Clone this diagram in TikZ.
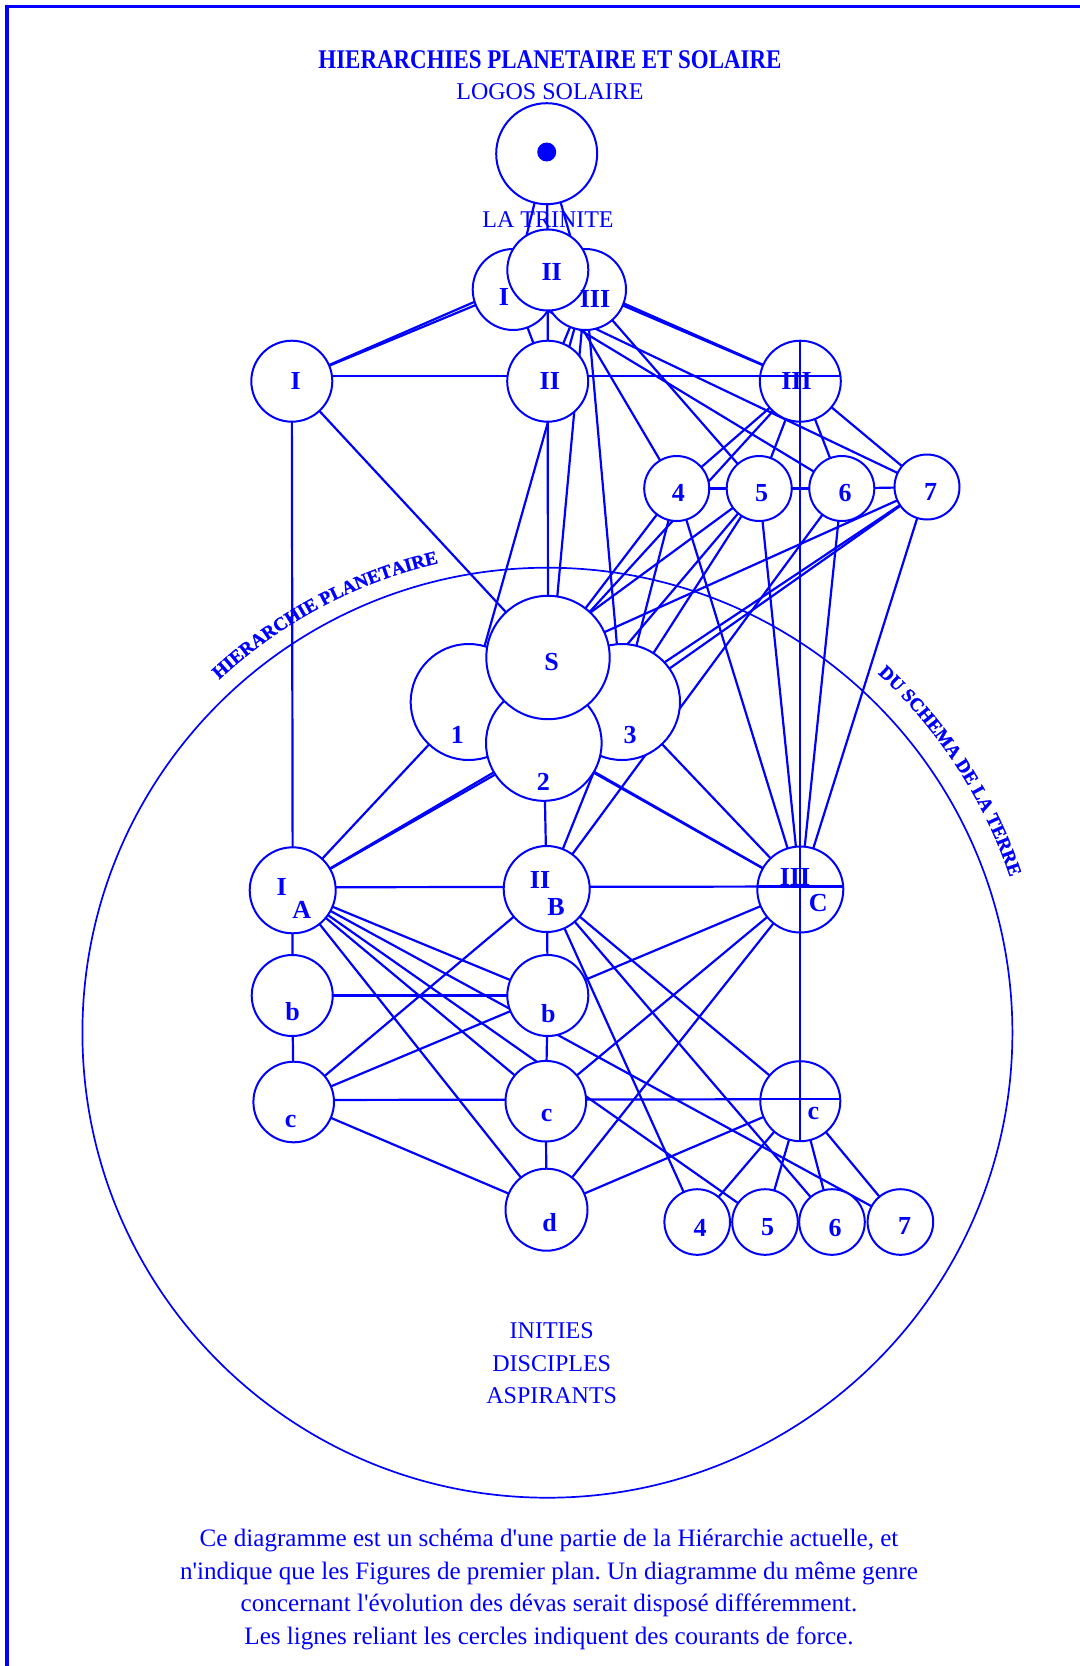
\documentclass[tikz,border=0pt]{standalone}
\usepackage{fontspec}
\setmainfont[Ligatures=TeXOff]{Liberation Serif}
\newfontfamily\heavyfont[Ligatures=TeXOff,BoldFeatures={FakeBold=1.3}]{Liberation Serif}
\usetikzlibrary{decorations.text}
\definecolor{blu}{RGB}{0,0,255}
\pgfdeclarelayer{bg}
\pgfsetlayers{bg,main}
\frenchspacing
\begin{document}
\begin{tikzpicture}[x=0.5pt,y=-0.5pt,
  circ/.style={circle,draw=blu,line width=1pt,fill=white,inner sep=0pt,outer sep=0pt},
  lab/.style={font=\fontsize{13}{13}\selectfont\bfseries,inner sep=0pt,text=blu},
  con/.style={draw=blu,line width=1.1pt},
  txt/.style={font=\fontsize{12}{14}\selectfont,text=blu,inner sep=0pt},
  foot/.style={font=\fontsize{12.55}{14}\selectfont,text=blu,inner sep=0pt,anchor=base},
  arctext/.style={decorate,decoration={text along path,text align=center,
    text={|\heavyfont\fontsize{9.4}{10}\selectfont\bfseries\color{blu}|#1}}}]
\useasboundingbox (0,0) rectangle (1080,1666);
\draw[blu,line width=1.6pt] (1080,6.7) -- (7,6.7) -- (7,1666);

% texts
\node[font=\fontsize{13.5}{14}\selectfont\bfseries,text=blu,inner sep=0pt] (title) at (550,59.2) {\scalebox{0.85}[1]{HIERARCHIES PLANETAIRE ET SOLAIRE}};
\node[txt] (logostxt) at (550,91.3) {LOGOS SOLAIRE};
\node[txt] (trin) at (548,219.2) {LA TRINITE};
\node[txt] (ini) at (551.7,1331) {INITIES};
\node[txt] (dis) at (551.7,1363.5) {DISCIPLES};
\node[txt] (asp) at (551.7,1395.7) {ASPIRANTS};
\node[foot] (f1) at (549,1546.5) {Ce diagramme est un schéma d'une partie de la Hiérarchie actuelle, et};
\node[foot] (f2) at (549,1579) {n'indique que les Figures de premier plan. Un diagramme du même genre};
\node[foot] (f3) at (549,1611.5) {concernant l'évolution des dévas serait disposé différemment.};
\node[foot] (f4) at (549,1644) {Les lignes reliant les cercles indiquent des courants de force.};

% big circle
\node[circle,draw=blu,line width=0.85pt,minimum size=465pt,inner sep=0pt] (big) at (547.4,1032.7) {};
\path[arctext=HIERARCHIE PLANETAIRE]
  (big.center) ++(-148:482) arc[start angle=-148,end angle=-88,radius=482];
\path[arctext=DU SCHEMA DE LA TERRE]
  (big.center) ++(-58:488) arc[start angle=-58,end angle=-8,radius=488];

% circles
\node[circ,minimum size=50.5pt] (L) at (546.7,153.7) {};
\node[circle,fill=blu,minimum size=9.5pt,inner sep=0pt] (dot) at (546.7,152) {};
\node[circ,minimum size=40.5pt] (tI) at (513.2,289.5) {};
\node[circ,minimum size=40.5pt] (tIII) at (585.5,289.5) {};
\node[circ,minimum size=40.5pt] (tII) at (547.8,270) {};
\node[circ,minimum size=40.5pt] (I) at (291.8,381.2) {};
\node[circ,minimum size=40.5pt] (II) at (547.7,381.2) {};
\node[circ,minimum size=40.5pt] (III) at (800.3,381.2) {};
\node[circ,minimum size=32.5pt] (p4) at (676.7,488.5) {};
\node[circ,minimum size=32.5pt] (p5) at (759.2,488.5) {};
\node[circ,minimum size=32.5pt] (p6) at (841.8,488.5) {};
\node[circ,minimum size=32.5pt] (p7) at (927,487) {};
\node[circ,minimum size=58pt] (n1) at (468.7,702) {};
\node[circ,minimum size=58pt] (n3) at (622,702) {};
\node[circ,minimum size=57.8pt] (n2) at (543.8,743) {};
\node[circ,minimum size=61.7pt] (S) at (548,657.5) {};
\node[circ,minimum size=43pt] (IA) at (292.7,890.3) {};
\node[circ,minimum size=43pt] (IIB) at (546.7,889) {};
\node[circ,minimum size=43pt] (IIIC) at (800.3,889.5) {};
\node[circ,minimum size=40.5pt] (bL) at (292.2,995.5) {};
\node[circ,minimum size=40.5pt] (bM) at (547.8,995.5) {};
\node[circ,minimum size=40.3pt] (cL) at (293.7,1102) {};
\node[circ,minimum size=40.3pt] (cM) at (545.8,1101.2) {};
\node[circ,minimum size=40pt] (cR) at (800.3,1101.2) {};
\node[circ,minimum size=41pt] (d) at (546.5,1209.7) {};
\node[circ,minimum size=32.8pt] (q4) at (697.2,1222) {};
\node[circ,minimum size=32.8pt] (q5) at (765,1222) {};
\node[circ,minimum size=32.8pt] (q6) at (832,1222) {};
\node[circ,minimum size=32.8pt] (q7) at (900.4,1222) {};

% labels
\node[lab] (ltI) at (504,296.7) {I};
\node[lab] (ltII) at (551.7,271.7) {II};
\node[lab] (ltIII) at (595,299.3) {III};
\node[lab] (lI) at (295.6,380.8) {I};
\node[lab] (lII) at (549.8,380.8) {II};
\node[lab] (lIII) at (796.5,380.8) {III};
\node[lab] (l4) at (678.3,492.7) {4};
\node[lab] (l5) at (761.7,492.7) {5};
\node[lab] (l6) at (845,492.7) {6};
\node[lab] (l7) at (930.7,491.7) {7};
\node[lab] (lS) at (551.7,661.7) {S};
\node[lab] (l1) at (457.3,735) {1};
\node[lab] (l2) at (543.3,781.7) {2};
\node[lab] (l3) at (630,735) {3};
\node[lab] (lIA1) at (281.7,886.7) {I};
\node[lab] (lIA2) at (301.7,910) {A};
\node[lab] (lIIB1) at (540,880) {II};
\node[lab] (lIIB2) at (556,907.3) {B};
\node[lab] (lIIIC1) at (795,877.3) {III};
\node[lab] (lIIIC2) at (818.3,903.3) {C};
\node[lab] (lbL) at (292.7,1011.7) {b};
\node[lab] (lbM) at (548.3,1013.3) {b};
\node[lab] (lcL) at (290.7,1121.7) {c};
\node[lab] (lcM) at (546.7,1115) {c};
\node[lab] (lcR) at (813.3,1113.3) {c};
\node[lab] (ld) at (549.6,1222.5) {d};
\node[lab] (lq4) at (700,1228.3) {4};
\node[lab] (lq5) at (767.7,1226.7) {5};
\node[lab] (lq6) at (835,1228.3) {6};
\node[lab] (lq7) at (904.6,1225.6) {7};

% connectors (under the circles)
\begin{pgfonlayer}{bg}
\foreach \a/\b in {L/tI,L/tII,L/tIII,
  tI/I,tII/I,tII/III,tIII/III,tI/II,tII/II,tIII/II,tIII/n1,tIII/n2,tIII/n3,
  tIII/p5,tII/p4,tI/p6,tI/p7,
  I/S,I/IA,II/S,III/p4,III/S,III/p5,III/p6,III/p7,
  p4/p5,p5/p6,p6/p7,
  p4/S,p4/n3,p4/IIIC,p5/n1,p5/n2,p5/n3,p5/IIIC,p6/IIB,p6/IIIC,p7/S,p7/n3,p7/n2,p7/IIIC,
  n1/IA,n2/IA,n3/IA,n2/IIIC,n1/IIIC,n3/IIIC,n2/IIB,n3/IIB,
  IA/bL,bL/cL,IIB/bM,bM/cM,cM/d,bL/bM,
  IA/bM,IA/q7,IA/q5,IA/cM,IA/d,
  IIB/cL,bM/cL,cL/d,
  IIB/cR,IIB/q6,IIB/q4,
  bM/IIIC,cM/IIIC,d/IIIC,d/cR,
  cR/q4,cR/q5,cR/q6,cR/q7}
  \draw[con] (\a.center) -- (\b.center);
\draw[con] ([yshift=2.5pt]I.center) -- ([yshift=2.5pt]III.center);
\draw[con] ([yshift=1.5pt]IA.center) -- ([yshift=1.5pt]IIIC.center);
\draw[con] ([yshift=1pt]cL.center) -- ([yshift=1pt]cR.center);
\end{pgfonlayer}

% lines crossing over the right column circles
\draw[con] (III.north) -- (cR.south);
\draw[con] ([yshift=2.5pt]III.west) -- ([yshift=2.5pt]III.east);
\draw[con] ([yshift=1.5pt]IIIC.west) -- ([yshift=1.5pt]IIIC.east);
\draw[con] ([yshift=1pt]cR.west) -- ([yshift=1pt]cR.east);
\end{tikzpicture}
\end{document}
